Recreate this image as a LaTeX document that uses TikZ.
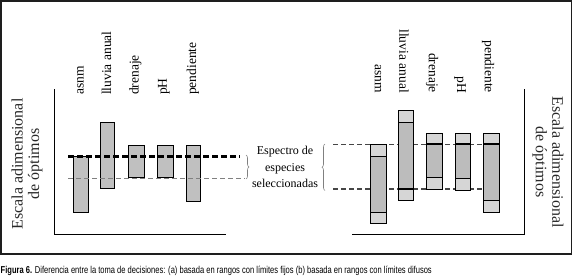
\documentclass[tikz,border=0pt]{standalone}
\usepackage{fontspec}
\setmainfont{Liberation Serif}
\newfontfamily\capfont[FakeStretch=0.755]{Liberation Sans}
\usepackage{tikz}
\usetikzlibrary{decorations.pathreplacing}
\definecolor{myframe}{RGB}{30,30,30}
\definecolor{mybar}{RGB}{192,192,192}
\definecolor{myfuzzy}{RGB}{214,214,214}
\definecolor{mycore}{RGB}{188,188,188}
\definecolor{mydash}{RGB}{70,70,70}
\definecolor{mygray}{RGB}{128,128,128}
\definecolor{mytext}{RGB}{40,40,40}
\tikzset{
  bar/.style={draw=black, fill=mybar, line width=0.9pt},
  fuzzybar/.style={draw=black, fill=myfuzzy, line width=0.9pt},
  corebar/.style={draw=black, fill=mycore, line width=0.9pt},
  cutline/.style={line width=2pt, color=black},
  axis/.style={line width=0.9pt, color=black},
  optline/.style={dash pattern=on 6pt off 3pt, line width=2.6pt, color=black},
  limline/.style={dash pattern=on 5pt off 3pt, line width=1pt, color=mygray},
  fuzzline/.style={dash pattern=on 5pt off 3pt, line width=1.1pt, color=mydash},
  varlabel/.style={font=\fontsize{13.5}{14}\selectfont, inner sep=0pt},
  scalelabel/.style={font=\fontsize{16}{16.5}\selectfont, align=center, color=mytext, inner sep=0pt},
  spanlabel/.style={font=\fontsize{12}{16.5}\selectfont, align=center, inner sep=0pt},
  brc/.style={decorate, decoration={brace, amplitude=3pt}, color=mygray, line width=0.6pt}
}
\begin{document}
\begin{tikzpicture}[x=1pt, y=-1pt]
  \useasboundingbox (0,0) rectangle (573,277);
  % Frame
  \draw[line width=1.5pt, color=myframe] (1,1) rectangle (571.5,254);

  % (a) fixed limits
  \coordinate (lyTop) at (54.3,89);
  \coordinate (lxEnd) at (226,234);
  \draw[axis] (lyTop) |- (lxEnd);

  \draw[bar] (73.3,156.7) rectangle (88.7,212.3);
  \draw[bar] (100.3,122.3) rectangle (114.7,188.3);
  \draw[bar] (128.3,145) rectangle (144.7,177.7);
  \draw[bar] (157,145) rectangle (173.7,177.7);
  \draw[bar] (186.3,145) rectangle (200.3,201);

  \coordinate (lOptA) at (68,156.3);
  \coordinate (lOptB) at (240,156.3);
  \coordinate (lLimA) at (68,178.3);
  \coordinate (lLimB) at (245,178.3);
  \draw[optline] (lOptA) -- (lOptB);
  \draw[limline] (lLimA) -- (lLimB);

  \coordinate (lBrTop) at (246,155);
  \coordinate (lBrBot) at (246,179);
  \draw[brc] (lBrTop) -- (lBrBot);

  \node[varlabel, rotate=90, anchor=west] (lAsnm) at (80.5,95) {asnm};
  \node[varlabel, rotate=90, anchor=west] (lLluvia) at (106.5,95) {lluvia anual};
  \node[varlabel, rotate=90, anchor=west] (lDrenaje) at (135.5,95) {drenaje};
  \node[varlabel, rotate=90, anchor=west] (lPH) at (164,95) {pH};
  \node[varlabel, rotate=90, anchor=west] (lPendiente) at (193,95) {pendiente};

  \node[scalelabel, rotate=90] (lScale) at (27,164) {Escala adimensional\\de óptimos};

  % Spectrum label
  \node[spanlabel] (span) at (285,167) {Espectro de\\especies\\seleccionadas};

  % (b) fuzzy limits
  \coordinate (ryTop) at (524,89);
  \coordinate (rxEnd) at (351.7,234);
  \draw[axis] (ryTop) |- (rxEnd);

  \coordinate (rUpA) at (333,144.3);
  \coordinate (rUpB) at (498,144.3);
  \coordinate (rLoA) at (333,189);
  \coordinate (rLoB) at (498,189);
  \draw[fuzzline] (rUpA) -- (rUpB);
  \draw[fuzzline] (rLoA) -- (rLoB);

  \draw[fuzzybar] (370.7,144.3) rectangle (386.3,223.3);
  \draw[corebar] (370.7,156.3) rectangle (386.3,212.3);

  \draw[fuzzybar] (398.3,110.7) rectangle (413.3,200);
  \draw[corebar] (398.3,122.3) rectangle (413.3,189);
  \draw[cutline] (398.3,189) -- (413.3,189);

  \draw[fuzzybar] (426.3,133.3) rectangle (442.3,189.3);
  \draw[corebar] (426.3,144.3) rectangle (442.3,177.3);
  \draw[cutline] (426.3,144.3) -- (442.3,144.3);

  \draw[fuzzybar] (455.3,133.3) rectangle (470.7,190);
  \draw[corebar] (455.3,144.3) rectangle (470.7,178.7);
  \draw[cutline] (455.3,144.3) -- (470.7,144.3);

  \draw[fuzzybar] (483.3,133.3) rectangle (499.3,212.3);
  \draw[corebar] (483.3,144.3) rectangle (499.3,200);
  \draw[cutline] (483.3,144.3) -- (499.3,144.3);

  \coordinate (rBrTop) at (325,144);
  \coordinate (rBrBot) at (325,190.5);
  \draw[brc] (rBrBot) -- (rBrTop);

  \node[varlabel, rotate=-90, anchor=east] (rAsnm) at (378,93) {asnm};
  \node[varlabel, rotate=-90, anchor=east] (rLluvia) at (404,93) {lluvia anual};
  \node[varlabel, rotate=-90, anchor=east] (rDrenaje) at (432,93) {drenaje};
  \node[varlabel, rotate=-90, anchor=east] (rPH) at (460,93) {pH};
  \node[varlabel, rotate=-90, anchor=east] (rPendiente) at (488,93) {pendiente};

  \node[scalelabel, rotate=-90] (rScale) at (548,162) {Escala adimensional\\de óptimos};

  % Caption
  \node[anchor=west, inner sep=0pt, font=\capfont\fontsize{10}{12}\selectfont] (caption) at (0.5,271)
    {\textbf{Figura 6.} Diferencia entre la toma de decisiones: (a) basada en rangos con límites fijos (b) basada en rangos con límites difusos};
\end{tikzpicture}
\end{document}
